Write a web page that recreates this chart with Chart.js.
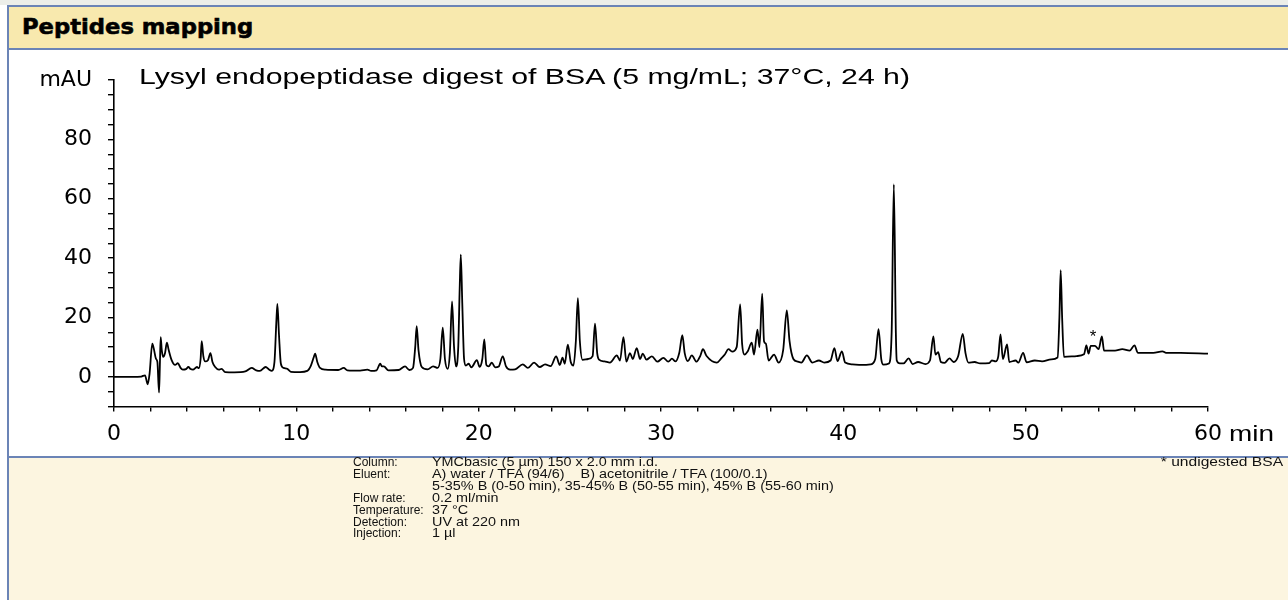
<!DOCTYPE html>
<html>
<head>
<meta charset="utf-8">
<script src="https://cdn.jsdelivr.net/npm/chart.js@4/dist/chart.umd.min.js"></script>
<style>
  html, body { margin: 0; padding: 0; width: 1288px; height: 600px; overflow: hidden; background: #ffffff; font-family: "Liberation Sans", Arial, sans-serif; }
  #topstrip { position: absolute; left: 0; top: 0; width: 1288px; height: 5px; background: #eceee9; }
  #frame { position: absolute; left: 7px; top: 5px; width: 1281px; height: 595px; border-left: 2px solid #6b84b6; box-sizing: border-box; }
  #header { position: absolute; left: 9px; top: 5px; width: 1279px; height: 45px; background: #f8e9ae; border-top: 2px solid #6b84b6; border-bottom: 2px solid #6b84b6; box-sizing: border-box; }
  #header span { position: absolute; left: 13px; top: 7px; font-family: "DejaVu Sans", sans-serif; font-weight: 900; font-size: 22px; color: #000; -webkit-text-stroke: 0.6px #000; transform: scaleX(1.03); transform-origin: left center; white-space: pre; }
  #chartbox { position: absolute; left: 0; top: 50px; width: 1288px; height: 406px; }
  #footer { position: absolute; left: 9px; top: 456px; width: 1279px; height: 144px; background: #fcf5e0; border-top: 2px solid #6b84b6; box-sizing: border-box; }
  .txt { position: absolute; white-space: pre; color: #000; }
  #plottitle { left: 139px; top: 64px; font-size: 22px; transform: scaleX(1.375); transform-origin: left center; }
  #minlbl { left: 1229px; top: 421px; font-size: 22px; transform: scaleX(1.27); transform-origin: left center; }
  .cond { position: absolute; font-size: 12px; line-height: 11.9px; color: #111; white-space: pre; }
</style>
</head>
<body>
<div id="topstrip"></div>
<div id="frame"></div>
<div id="header"><span>Peptides mapping</span></div>
<div id="chartbox"><canvas id="c" width="1288" height="406"></canvas></div>
<div class="txt" id="plottitle">Lysyl endopeptidase digest of BSA (5 mg/mL; 37°C, 24 h)</div>
<div class="txt" id="minlbl">min</div>
<div id="footer"></div>
<div class="cond" style="left:353px; top:457px;">Column:
Eluent:

Flow rate:
Temperature:
Detection:
Injection:</div>
<div class="cond" style="left:432px; top:457px; transform: scaleX(1.2); transform-origin: left top;">YMCbasic (5 µm) 150 x 2.0 mm i.d.
A) water / TFA (94/6)    B) acetonitrile / TFA (100/0.1)
5-35% B (0-50 min), 35-45% B (50-55 min), 45% B (55-60 min)
0.2 ml/min
37 °C
UV at 220 nm
1 µl</div>
<div class="cond" style="right:5px; top:457px; text-align:right; transform: scaleX(1.3); transform-origin: right top;">* undigested BSA</div>
<script>
// Retention time (min) and detector response (mAU)
const retentionTime = [
  0, 1.0, 1.5, 1.7, 1.85, 1.95, 2.1, 2.2, 2.3, 2.38, 2.47, 2.52, 2.56, 2.62, 2.7, 2.8, 2.9, 3.0, 3.16, 3.35,
  3.5, 3.65, 3.77, 3.95, 4.08, 4.2, 4.33, 4.55, 4.65, 4.75, 4.81, 4.9, 5.0, 5.15, 5.29, 5.4, 5.55, 5.75, 5.9, 6.1,
  6.6, 7.2, 7.55, 7.8, 8.0, 8.32, 8.5, 8.65, 8.8, 8.9, 8.96, 9.05, 9.15, 9.3, 9.5, 9.7, 10.2, 10.6, 10.8, 10.95,
  11.03, 11.15, 11.3, 11.6, 12.3, 12.6, 12.8, 13.5, 13.9, 14.1, 14.4, 14.6, 14.7, 14.8, 15.05, 15.6, 15.96, 16.2, 16.4, 16.52,
  16.6, 16.7, 16.88, 17.2, 17.5, 17.75, 17.9, 18.03, 18.15, 18.3, 18.42, 18.54, 18.65, 18.76, 18.88, 18.96, 19.02, 19.1, 19.2, 19.3,
  19.45, 19.6, 19.9, 20.05, 20.2, 20.31, 20.42, 20.55, 20.72, 20.9, 21.1, 21.32, 21.5, 21.72, 22.0, 22.42, 22.7, 23.04, 23.35, 23.64,
  23.95, 24.25, 24.45, 24.6, 24.72, 24.89, 25.05, 25.2, 25.33, 25.44, 25.55, 25.7, 26.0, 26.25, 26.38, 26.5, 26.6, 26.9, 27.2, 27.58,
  27.75, 27.94, 28.1, 28.3, 28.45, 28.67, 28.85, 29.0, 29.2, 29.5, 29.8, 30.13, 30.4, 30.6, 30.8, 31.0, 31.17, 31.3, 31.47, 31.69,
  31.95, 32.15, 32.3, 32.5, 33.06, 33.33, 33.5, 33.7, 33.9, 34.15, 34.34, 34.45, 34.58, 34.75, 34.98, 35.1, 35.29, 35.4, 35.55, 35.65,
  35.75, 35.9, 36.2, 36.45, 36.7, 36.9, 37.05, 37.26, 37.5, 37.7, 38.0, 38.3, 38.66, 38.95, 39.3, 39.51, 39.68, 39.92, 40.1, 40.5,
  41.0, 41.5, 41.75, 41.93, 42.08, 42.2, 42.5, 42.65, 42.77, 42.88, 42.93, 43.1, 43.3, 43.58, 43.8, 44.1, 44.5, 44.75, 44.94, 45.05,
  45.2, 45.35, 45.55, 45.82, 46.05, 46.3, 46.55, 46.7, 46.86, 47.2, 47.5, 48.0, 48.15, 48.35, 48.5, 48.62, 48.75, 48.98, 49.1, 49.45,
  49.6, 49.86, 50.05, 50.5, 50.9, 51.4, 51.75, 51.85, 51.92, 52.0, 52.1, 52.8, 53.2, 53.33, 53.45, 53.57, 53.8, 54.0, 54.18, 54.3,
  54.9, 55.3, 55.7, 55.97, 56.15, 57.0, 57.5, 57.7, 58.5, 60
];
const absorbance = [
  0, 0, 0.1, 0.5, -2.5, 1, 11.2, 9, 6.1, 5, -5.3, 5, 13.4, 9, 6.7, 8, 11.5, 9, 5.6, 4,
  4.6, 3, 2.4, 2.6, 3.3, 2.6, 2.4, 3.3, 2.9, 6, 12, 7, 5.2, 5.6, 8, 5, 3.3, 2.4, 2.7, 1.6,
  1.5, 1.8, 3.0, 2.2, 2, 3.3, 2.5, 2, 5, 18, 24.6, 14, 4.5, 3, 2.7, 1.7, 1.6, 2, 3.8, 6.5,
  7.8, 5, 3, 2.4, 2.3, 3, 2.2, 2.1, 2.4, 2, 2.2, 4.4, 3.5, 3.5, 2.2, 2.3, 3.5, 2.3, 3, 10,
  17.1, 9, 3.3, 2.5, 3.5, 3, 6, 16.6, 6, 2.7, 8, 25.4, 10, 3.5, 10, 30, 41.2, 25, 6, 3.8,
  4.4, 3.2, 5.6, 3.4, 6, 12.6, 4, 3.5, 4.8, 3.2, 3.5, 6.9, 3.5, 2.4, 2.5, 4.2, 3, 4.8, 3.3, 4.2,
  3.6, 6.9, 4, 6.5, 4.4, 10.8, 5, 3.8, 12, 26.5, 12, 5.7, 6, 7, 17.9, 8, 5.8, 5.2, 4.8, 7.2,
  5.5, 13.4, 5.1, 8, 6, 9.7, 6, 7.8, 5.8, 6.9, 5.1, 6.4, 5.1, 6.1, 5.2, 8, 14, 8, 5.3, 7.2,
  5.1, 7, 9.3, 7, 4.8, 6.4, 7.5, 9.3, 8.5, 10, 24.4, 11, 7.5, 8.5, 11.5, 7.5, 15.9, 10, 28, 12,
  11.2, 5.5, 7.5, 4.8, 9, 22.4, 12, 6.0, 5.1, 4.8, 7.2, 4.8, 5.5, 4.8, 5.5, 9.7, 5.3, 8.6, 4.8, 4.2,
  4.0, 4.2, 6, 16.1, 6, 4.1, 4.5, 15, 64.8, 15, 5.5, 4.5, 4.5, 6.2, 4.3, 5, 4.3, 5.5, 13.6, 7.5,
  8.3, 5, 4.7, 6.2, 5, 7, 14.5, 8, 4.8, 5, 4.5, 4.6, 5.5, 5.2, 7, 14.3, 6, 10.9, 5, 5.5,
  4.8, 8.1, 4.9, 5.5, 5.2, 5.9, 6.5, 20, 35.9, 20, 6.7, 7, 7.6, 10.6, 7.8, 10.4, 10.4, 9.3, 13.6, 8.8,
  8.8, 9.3, 8.8, 10.6, 8.1, 8.1, 8.6, 8.1, 8.1, 7.8
];
const yLabels = { 0: '0', 20: '20', 40: '40', 60: '60', 80: '80', 100: 'mAU' };
const xLabels = { 0: '0', 10: '10', 20: '20', 30: '30', 40: '40', 50: '50', 60: '60' };
const markerTime = [53.7];
const markerValue = [14.2];
const markerText = ['*'];

const points = retentionTime.map((t, i) => ({ x: t, y: absorbance[i] }));
const tickFont = { family: '"DejaVu Sans", sans-serif', size: 22 };

const markerPlugin = {
  id: 'marker',
  afterDatasetsDraw(chart) {
    const ctx = chart.ctx;
    ctx.save();
    ctx.fillStyle = '#000';
    ctx.font = '17px "Liberation Sans", Arial, sans-serif';
    ctx.textAlign = 'center';
    ctx.textBaseline = 'middle';
    markerTime.forEach((t, i) => {
      ctx.fillText(markerText[i], chart.scales.x.getPixelForValue(t), chart.scales.y.getPixelForValue(markerValue[i]) + 3);
    });
    ctx.restore();
  }
};

new Chart(document.getElementById('c'), {
  type: 'line',
  data: {
    datasets: [{
      data: points,
      borderColor: '#000',
      borderWidth: 1.8,
      pointRadius: 0,
      cubicInterpolationMode: 'monotone',
      fill: false
    }]
  },
  options: {
    responsive: false,
    animation: false,
    events: [],
    layout: { padding: { top: 30, right: 80, left: 0, bottom: 0 } },
    plugins: { legend: { display: false }, tooltip: { enabled: false }, title: { display: false } },
    scales: {
      x: {
        type: 'linear', min: 0, max: 60,
        afterFit(s) { s.height = 49.5; },
        border: { display: true, color: '#000', width: 1.6 },
        grid: { drawOnChartArea: false, drawTicks: true, tickLength: 5, color: '#000', lineWidth: 1.4 },
        ticks: {
          stepSize: 2, autoSkip: false, maxRotation: 0, padding: 10, color: '#000',
          font: tickFont,
          callback: v => (v in xLabels) ? xLabels[v] : ''
        }
      },
      y: {
        type: 'linear', min: -10, max: 100,
        afterFit(s) { s.width = 114; },
        border: { display: true, color: '#000', width: 1.6 },
        grid: { drawOnChartArea: false, drawTicks: true, tickLength: 6, color: '#000', lineWidth: 1.4 },
        ticks: {
          stepSize: 5, autoSkip: false, padding: 16, color: '#000',
          font: tickFont,
          callback: v => (v in yLabels) ? yLabels[v] : ''
        }
      }
    }
  },
  plugins: [markerPlugin]
});
</script>
</body>
</html>
